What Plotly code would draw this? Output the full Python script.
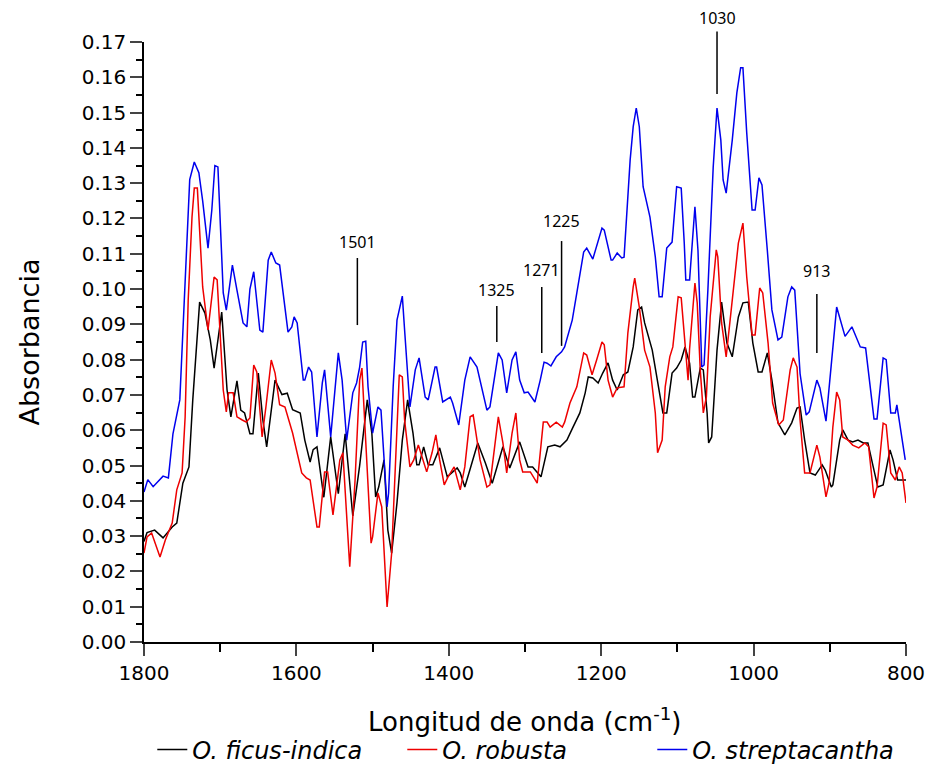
import plotly.graph_objects as go

# ---------------- data ----------------
wn_ficus = [1800, 1796, 1786, 1775, 1763, 1757, 1749, 1741, 1736, 1730, 1727, 1720, 1713, 1708, 1703, 1698,
            1691, 1686, 1678, 1673, 1668, 1661, 1657, 1650, 1644, 1639, 1628, 1619, 1612, 1605, 1595, 1589,
            1582, 1578, 1573, 1564, 1555, 1545, 1536, 1526, 1517, 1507, 1501, 1496, 1492, 1485, 1480, 1475,
            1468, 1461, 1454, 1447, 1442, 1439, 1433, 1427, 1421, 1412, 1402, 1396, 1389, 1385, 1379, 1372,
            1362, 1352, 1343, 1329, 1320, 1307, 1296, 1290, 1279, 1270, 1261, 1254, 1245, 1237, 1228, 1221,
            1217, 1211, 1204, 1198, 1191, 1185, 1179, 1171, 1165, 1158, 1152, 1147, 1143, 1133, 1126, 1119,
            1114, 1107, 1101, 1095, 1090, 1084, 1080, 1077, 1070, 1066, 1061, 1059, 1055, 1048, 1042, 1035,
            1028, 1020, 1014, 1007, 1001, 994, 989, 982, 976, 968, 959, 950, 943, 939, 933, 926,
            919, 910, 906, 898, 896, 887, 883, 876, 870, 863, 856, 850, 843, 837, 830, 821,
            817, 811, 800]
abs_ficus = [0.0285, 0.0310, 0.0317, 0.0295, 0.0326, 0.0337, 0.0450, 0.0496, 0.0686, 0.0876, 0.0963, 0.0932, 0.0856, 0.0776, 0.0856, 0.0935,
             0.0714, 0.0638, 0.0740, 0.0657, 0.0649, 0.0590, 0.0590, 0.0762, 0.0629, 0.0553, 0.0742, 0.0701, 0.0705, 0.0658, 0.0649, 0.0572,
             0.0510, 0.0545, 0.0553, 0.0410, 0.0581, 0.0420, 0.0590, 0.0357, 0.0500, 0.0686, 0.0592, 0.0411, 0.0439, 0.0516, 0.0317, 0.0252,
             0.0394, 0.0572, 0.0686, 0.0592, 0.0502, 0.0502, 0.0553, 0.0502, 0.0502, 0.0550, 0.0468, 0.0479, 0.0493, 0.0479, 0.0439, 0.0490,
             0.0564, 0.0507, 0.0450, 0.0553, 0.0493, 0.0567, 0.0496, 0.0496, 0.0468, 0.0553, 0.0558, 0.0553, 0.0572, 0.0609, 0.0649, 0.0706,
             0.0751, 0.0748, 0.0734, 0.0762, 0.0791, 0.0742, 0.0714, 0.0757, 0.0765, 0.0836, 0.0941, 0.0949, 0.0904, 0.0827, 0.0742, 0.0649,
             0.0649, 0.0762, 0.0776, 0.0799, 0.0836, 0.0790, 0.0694, 0.0694, 0.0776, 0.0771, 0.0649, 0.0564, 0.0581, 0.0827, 0.0963, 0.0847,
             0.0808, 0.0921, 0.0961, 0.0963, 0.0847, 0.0765, 0.0765, 0.0819, 0.0742, 0.0621, 0.0587, 0.0621, 0.0663, 0.0666, 0.0572, 0.0479,
             0.0473, 0.0502, 0.0487, 0.0439, 0.0445, 0.0572, 0.0601, 0.0572, 0.0567, 0.0572, 0.0564, 0.0564, 0.0496, 0.0439, 0.0445, 0.0544,
             0.0516, 0.0459, 0.0459]

wn_robusta = [1800, 1796, 1790, 1783, 1779, 1772, 1763, 1757, 1750, 1746, 1742, 1737, 1734, 1730, 1727, 1723,
              1716, 1711, 1708, 1704, 1700, 1696, 1692, 1689, 1683, 1678, 1671, 1666, 1661, 1656, 1652, 1645,
              1640, 1633, 1628, 1622, 1615, 1605, 1593, 1587, 1582, 1573, 1570, 1563, 1559, 1552, 1543, 1539,
              1530, 1523, 1517, 1514, 1510, 1502, 1500, 1493, 1488, 1481, 1475, 1468, 1465, 1461, 1458, 1451,
              1446, 1440, 1434, 1429, 1422, 1417, 1412, 1406, 1401, 1393, 1385, 1379, 1372, 1368, 1359, 1350,
              1346, 1335, 1329, 1324, 1317, 1312, 1307, 1303, 1293, 1284, 1280, 1276, 1271, 1267, 1259, 1251,
              1248, 1241, 1232, 1228, 1223, 1219, 1212, 1206, 1199, 1196, 1191, 1185, 1179, 1170, 1165, 1158,
              1156, 1150, 1143, 1136, 1129, 1126, 1120, 1116, 1110, 1106, 1099, 1095, 1090, 1086, 1084, 1077,
              1074, 1070, 1066, 1062, 1057, 1049, 1047, 1042, 1036, 1028, 1020, 1014, 1009, 1002, 998, 992,
              988, 981, 975, 967, 961, 952, 948, 943, 939, 933, 926, 917, 913, 905, 901, 896,
              891, 887, 883, 876, 870, 862, 854, 849, 842, 838, 830, 826, 820, 814, 809, 805,
              800]
abs_robusta = [0.0252, 0.0298, 0.0309, 0.0269, 0.0241, 0.0289, 0.0337, 0.0431, 0.0479, 0.0638, 0.0969, 0.1204, 0.1286, 0.1286, 0.1176, 0.1006,
               0.0884, 0.0969, 0.1034, 0.1026, 0.0876, 0.0714, 0.0652, 0.0706, 0.0706, 0.0638, 0.0629, 0.0623, 0.0635, 0.0785, 0.0765, 0.0581,
               0.0666, 0.0799, 0.0762, 0.0672, 0.0666, 0.0592, 0.0479, 0.0465, 0.0459, 0.0326, 0.0326, 0.0482, 0.0482, 0.0360, 0.0516, 0.0536,
               0.0213, 0.0459, 0.0742, 0.0776, 0.0609, 0.0280, 0.0298, 0.0422, 0.0383, 0.0099, 0.0252, 0.0629, 0.0757, 0.0751, 0.0629, 0.0496,
               0.0516, 0.0558, 0.0516, 0.0482, 0.0536, 0.0587, 0.0516, 0.0445, 0.0468, 0.0496, 0.0431, 0.0496, 0.0638, 0.0643, 0.0516, 0.0439,
               0.0445, 0.0638, 0.0564, 0.0479, 0.0592, 0.0649, 0.0516, 0.0482, 0.0482, 0.0450, 0.0536, 0.0623, 0.0623, 0.0609, 0.0623, 0.0609,
               0.0623, 0.0677, 0.0723, 0.0765, 0.0819, 0.0813, 0.0757, 0.0799, 0.0850, 0.0842, 0.0742, 0.0694, 0.0720, 0.0723, 0.0876, 0.1006,
               0.1031, 0.0949, 0.0827, 0.0779, 0.0649, 0.0536, 0.0572, 0.0723, 0.0808, 0.0836, 0.0978, 0.0975, 0.0847, 0.0742, 0.0830, 0.1017,
               0.0961, 0.0771, 0.0649, 0.0694, 0.0921, 0.1111, 0.1091, 0.0904, 0.0808, 0.0969, 0.1130, 0.1187, 0.1034, 0.0870, 0.0870, 0.1003,
               0.0989, 0.0847, 0.0677, 0.0615, 0.0629, 0.0771, 0.0805, 0.0779, 0.0629, 0.0479, 0.0479, 0.0558, 0.0524, 0.0411, 0.0450, 0.0609,
               0.0708, 0.0686, 0.0581, 0.0572, 0.0558, 0.0550, 0.0564, 0.0553, 0.0408, 0.0439, 0.0620, 0.0615, 0.0479, 0.0459, 0.0496, 0.0479,
               0.0394]

wn_strep = [1800, 1795, 1788, 1775, 1768, 1762, 1753, 1749, 1744, 1740, 1734, 1728, 1723, 1716, 1711, 1707,
            1703, 1700, 1696, 1692, 1684, 1678, 1670, 1665, 1661, 1656, 1648, 1644, 1637, 1633, 1627, 1622,
            1611, 1606, 1603, 1599, 1591, 1589, 1584, 1580, 1573, 1566, 1563, 1555, 1545, 1540, 1534, 1526,
            1521, 1517, 1513, 1509, 1506, 1500, 1493, 1489, 1481, 1479, 1473, 1468, 1461, 1458, 1451, 1444,
            1439, 1431, 1427, 1418, 1416, 1408, 1398, 1395, 1387, 1379, 1372, 1363, 1350, 1346, 1335, 1330,
            1324, 1317, 1312, 1307, 1301, 1296, 1287, 1280, 1275, 1271, 1266, 1259, 1252, 1248, 1238, 1232,
            1228, 1223, 1219, 1211, 1199, 1196, 1187, 1185, 1179, 1173, 1170, 1162, 1158, 1154, 1150, 1145,
            1136, 1129, 1124, 1120, 1114, 1107, 1101, 1095, 1091, 1089, 1084, 1077, 1073, 1068, 1065, 1060,
            1053, 1048, 1043, 1040, 1036, 1028, 1022, 1017, 1014, 1009, 1002, 998, 993, 989, 982, 976,
            968, 963, 955, 950, 946, 939, 931, 927, 917, 913, 905, 896, 891, 880, 871, 860,
            853, 842, 838, 830, 826, 820, 814, 812, 801]
abs_strep = [0.0425, 0.0460, 0.0440, 0.0470, 0.0465, 0.0590, 0.0686, 0.0876, 0.1160, 0.1310, 0.1360, 0.1330, 0.1250, 0.1116, 0.1224, 0.1350,
             0.1346, 0.1176, 0.0989, 0.0940, 0.1068, 0.0997, 0.0904, 0.0893, 0.1000, 0.1049, 0.0884, 0.0878, 0.1082, 0.1105, 0.1074, 0.1068,
             0.0878, 0.0893, 0.0921, 0.0904, 0.0742, 0.0742, 0.0779, 0.0765, 0.0581, 0.0734, 0.0771, 0.0581, 0.0819, 0.0742, 0.0572, 0.0706,
             0.0734, 0.0779, 0.0850, 0.0852, 0.0723, 0.0592, 0.0666, 0.0657, 0.0383, 0.0422, 0.0723, 0.0912, 0.0980, 0.0884, 0.0666, 0.0771,
             0.0805, 0.0694, 0.0686, 0.0779, 0.0779, 0.0680, 0.0694, 0.0677, 0.0615, 0.0742, 0.0808, 0.0779, 0.0657, 0.0666, 0.0819, 0.0799,
             0.0706, 0.0799, 0.0822, 0.0742, 0.0706, 0.0708, 0.0680, 0.0742, 0.0793, 0.0790, 0.0782, 0.0808, 0.0822, 0.0836, 0.0912, 0.0989,
             0.1040, 0.1105, 0.1116, 0.1085, 0.1173, 0.1167, 0.1082, 0.1082, 0.1102, 0.1088, 0.1090, 0.1366, 0.1460, 0.1513, 0.1460, 0.1290,
             0.1204, 0.1091, 0.0978, 0.0978, 0.1116, 0.1133, 0.1290, 0.1286, 0.1130, 0.1026, 0.1026, 0.1233, 0.1110, 0.0779, 0.0785, 0.0997,
             0.1346, 0.1513, 0.1422, 0.1309, 0.1272, 0.1422, 0.1556, 0.1627, 0.1627, 0.1442, 0.1224, 0.1224, 0.1315, 0.1295, 0.1110, 0.0941,
             0.0856, 0.0864, 0.0978, 0.1006, 0.0997, 0.0760, 0.0643, 0.0652, 0.0742, 0.0720, 0.0626, 0.0820, 0.0949, 0.0866, 0.0893, 0.0836,
             0.0833, 0.0632, 0.0632, 0.0805, 0.0800, 0.0649, 0.0649, 0.0672, 0.0516]

series_names = ["<i>O. ficus-indica</i>", "<i>O. robusta</i>", "<i>O. streptacantha</i>"]
series_colors = ["#000000", "#ee0000", "#0000ee"]

# peak labels: text, wavenumber of marker line, line bottom, line top, text height (absorbance units)
peak_text = ["1501", "1325", "1271", "1225", "1030", "913"]
peak_wn = [1520, 1337, 1278, 1252, 1048, 917]
peak_y0 = [0.0898, 0.0850, 0.0819, 0.0839, 0.1553, 0.0819]
peak_y1 = [0.1088, 0.0952, 0.1006, 0.1136, 0.1730, 0.0986]
peak_ty = [0.1133, 0.0997, 0.1054, 0.1193, 0.1768, 0.1051]

Y_MAX = 0.17
x_tick_vals = [1800, 1600, 1400, 1200, 1000, 800]
y_tick_vals = [round(i * 0.01, 2) for i in range(18)]
x_title = "Longitud de onda (cm<sup>-1</sup>)"
y_title = "Absorbancia"

FONT = "DejaVu Sans"

fig = go.Figure()
for wn, ab, name, col in zip([wn_ficus, wn_robusta, wn_strep],
                             [abs_ficus, abs_robusta, abs_strep],
                             series_names, series_colors):
    fig.add_trace(go.Scatter(x=wn, y=ab, mode="lines", name=name,
                             line=dict(color=col, width=1.5)))

# peak markers are referenced to the paper height so they can rise above the frame
for t, w, y0, y1, ty in zip(peak_text, peak_wn, peak_y0, peak_y1, peak_ty):
    fig.add_shape(type="line", xref="x", yref="paper", x0=w, x1=w, y0=y0 / Y_MAX, y1=y1 / Y_MAX,
                  line=dict(color="black", width=1.5))
    fig.add_annotation(x=w, y=ty / Y_MAX, xref="x", yref="paper", text=t, showarrow=False,
                       font=dict(family="Noto Sans", size=16, color="black"),
                       xanchor="center", yanchor="middle")

# x axis title placed as a paper annotation below the tick labels
fig.add_annotation(x=0.5, y=-0.13, xref="paper", yref="paper", text=x_title, showarrow=False,
                   font=dict(family=FONT, size=26, color="black"), xanchor="center", yanchor="middle")

fig.update_layout(
    width=934, height=773, autosize=False,
    margin=dict(l=144, r=28, t=42, b=131, autoexpand=False),
    paper_bgcolor="white", plot_bgcolor="white",
    font=dict(family=FONT, color="black"),
    showlegend=True,
    legend=dict(orientation="h", x=0.503, xanchor="center", xref="paper",
                y=0.03, yanchor="middle", yref="container",
                font=dict(family=FONT, size=24, color="black"),
                entrywidth=205, entrywidthmode="pixels",
                bgcolor="rgba(0,0,0,0)"),
)
fig.update_xaxes(range=[1800, 800], tickvals=x_tick_vals, ticks="outside", ticklen=12, tickwidth=1.5,
                 showline=True, linecolor="black", linewidth=1.5, showgrid=False, zeroline=False,
                 automargin=False,
                 tickfont=dict(family=FONT, size=20),
                 minor=dict(dtick=100, tick0=800, ticks="outside", ticklen=8, tickwidth=1.5, tickcolor="black"))
fig.update_yaxes(range=[0, Y_MAX], tickvals=y_tick_vals, tickformat=".2f", ticks="outside", ticklen=12,
                 tickwidth=1.5, showline=True, linecolor="black", linewidth=1.5, showgrid=False,
                 zeroline=False, automargin=False, tickfont=dict(family=FONT, size=20),
                 minor=dict(dtick=0.005, tick0=0, ticks="outside", ticklen=6, tickwidth=1.5, tickcolor="black"),
                 title=dict(text=y_title, font=dict(family=FONT, size=27), standoff=34))

fig.write_html("out.html")
